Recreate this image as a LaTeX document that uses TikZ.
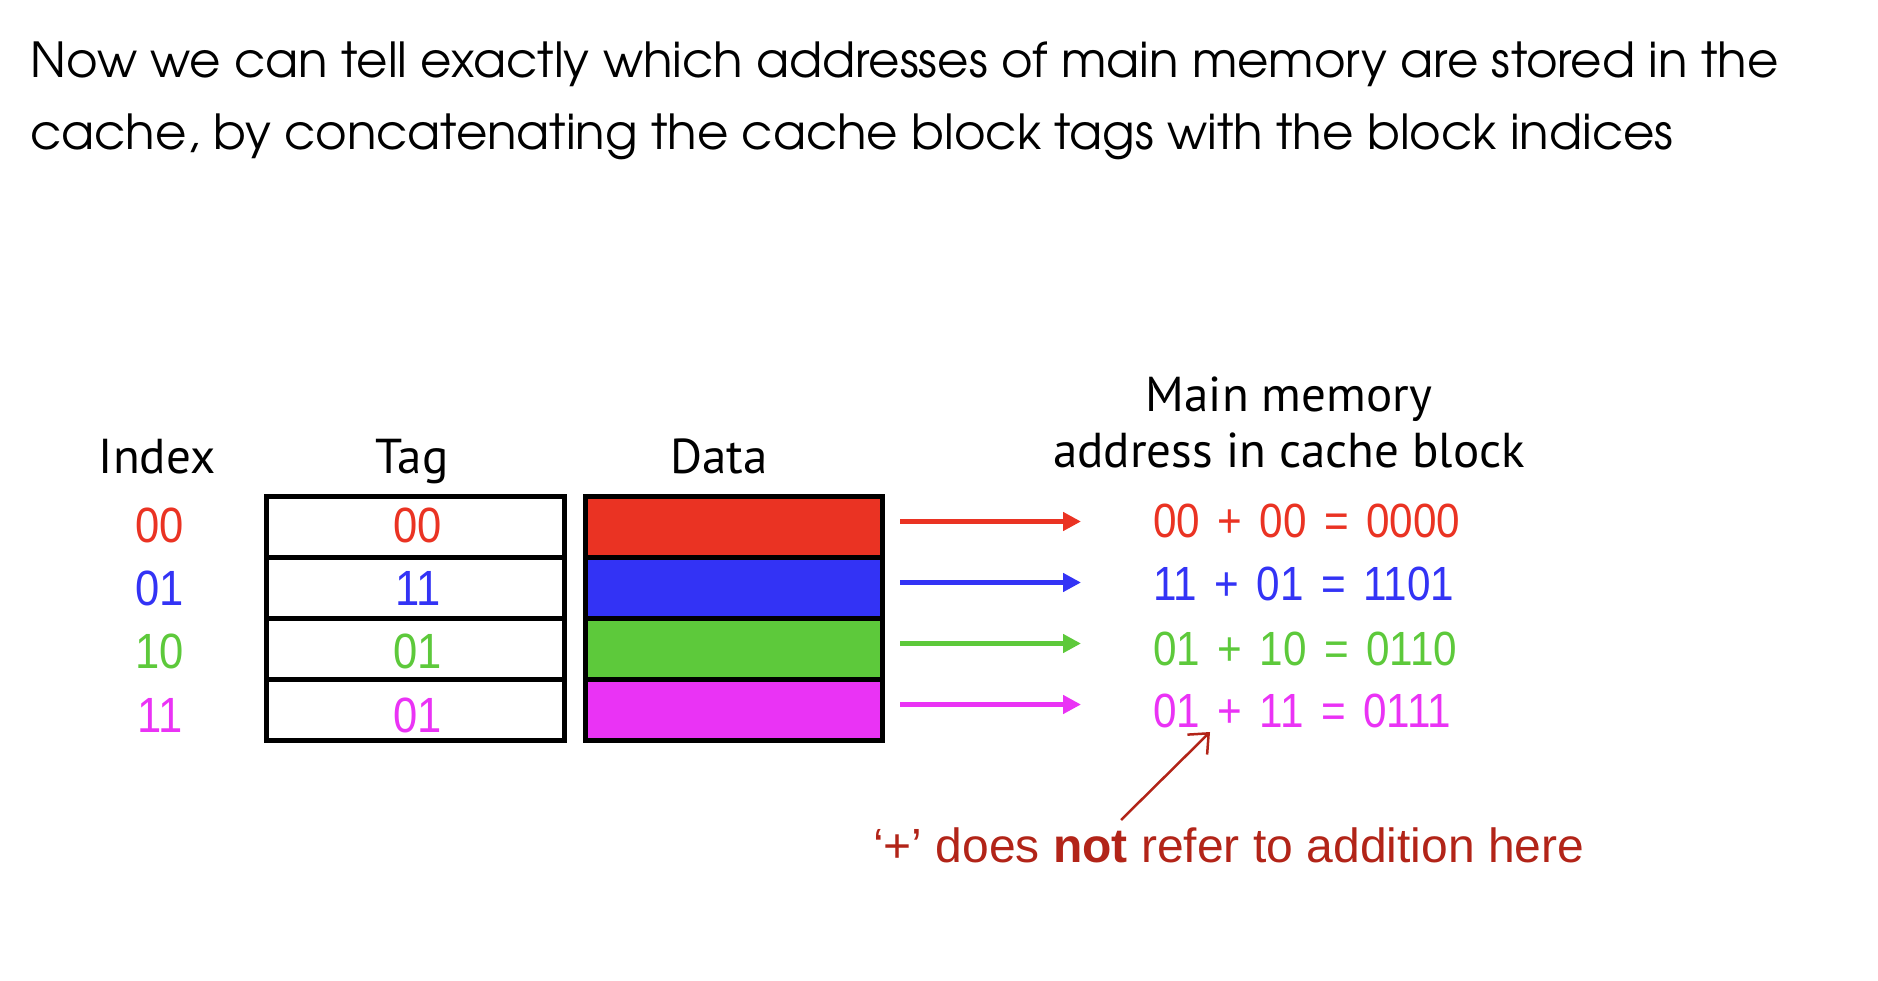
\documentclass[tikz,border=0pt]{standalone}
\usepackage{fontspec}
\setmainfont{TeX Gyre Adventor}
\newfontfamily\labelfont{PT Sans}
\newfontfamily\digitfont[FakeStretch=0.88]{Liberation Sans}
\newfontfamily\notefont{Liberation Sans}
\usetikzlibrary{arrows.meta,calc}

\definecolor{rowred}{HTML}{EA3323}
\definecolor{rowblue}{HTML}{3333F5}
\definecolor{rowgreen}{HTML}{5DC93B}
\definecolor{rowmagenta}{HTML}{EA33F5}
\definecolor{notered}{HTML}{B22418}

% wider word spaces for the address sums
\newcommand\eqfontsetup{\digitfont\fontsize{48}{50}\selectfont\spaceskip 17.5pt\relax}

\begin{document}
\begin{tikzpicture}[x=1pt,y=-1pt,
  titletext/.style={anchor=base west, inner sep=0pt, font=\fontsize{48.3}{56}\selectfont},
  header/.style={anchor=base, inner sep=0pt, font=\labelfont\fontsize{49}{56}\selectfont},
  digits/.style={anchor=base, inner sep=0pt, font=\digitfont\fontsize{49.5}{50}\selectfont},
  tagcell/.style={draw=black, line width=5pt, fill=white, inner sep=0pt,
                  minimum width=298pt, minimum height=61pt},
  datacell/.style={draw=black, line width=5pt, inner sep=0pt,
                   minimum width=297pt, minimum height=61pt},
  equation/.style={anchor=base west, inner sep=0pt, font=\eqfontsetup},
  maparrow/.style={line width=5pt, -{Triangle[length=18pt,width=18pt]}},
  pointer/.style={notered, line width=2.5pt, -{Straight Barb[length=16pt,width=28pt]}}
]
\useasboundingbox (0,0) rectangle (1878,981);

% heading
\node[titletext] (title1) at (30,78)
  {Now we can tell exactly which addresses of main memory are stored in the};
\node[titletext] (title2) at (30,150)
  {cache, by concatenating the cache block tags with the block indices};

% column headers
\node[header] (hindex) at (157,473) {Index};
\node[header] (htag)   at (412,473) {Tag};
\node[header] (hdata)  at (719,473) {Data};
\node[header] (haddr1) at (1289,411) {Main memory};
\node[header] (haddr2) at (1289,467) {address in cache block};

% cache rows: index, tag cell, data block
\foreach \k/\y/\b/\col/\idx/\tg in {1/526.5/542/rowred/00/00,
                                    2/587.5/605/rowblue/01/11,
                                    3/648.5/668/rowgreen/10/01,
                                    4/709.5/732/rowmagenta/11/01} {
  \node[tagcell] (t\k) at (415.5,\y) {};
  \node[datacell, fill=\col] (d\k) at (734,\y) {};
  \node[digits, text=\col] (i\k) at (160,\b) {\idx};
  \node[digits, text=\col] (v\k) at (418,\b) {\tg};
}

% main memory addresses
\node[equation, text=rowred]     (e1) at (1153,537) {00 + 00 = 0000};
\node[equation, text=rowblue]    (e2) at (1153,600) {11 + 01 = 1101};
\node[equation, text=rowgreen]   (e3) at (1153,665) {01 + 10 = 0110};
\node[equation, text=rowmagenta] (e4) at (1153,727) {01 + 11 = 0111};

% arrows from each data block to its address
\foreach \k/\col in {1/rowred,2/rowblue,3/rowgreen,4/rowmagenta} {
  \draw[maparrow, \col] ($(d\k.east)+(15pt,5pt)$) -- ($(e\k.west |- d\k.east)+(-72pt,5pt)$);
}

% note about the plus sign
\node[anchor=base west, inner sep=0pt, text=notered,
      font=\notefont\fontsize{48}{48}\selectfont] (note) at (873,862)
  {‘+’ does \textbf{not} refer to addition here};
\coordinate (ptail) at (1121,820);
\coordinate (phead) at (1210,732);
\draw[pointer] (ptail) -- (phead);
\end{tikzpicture}
\end{document}
